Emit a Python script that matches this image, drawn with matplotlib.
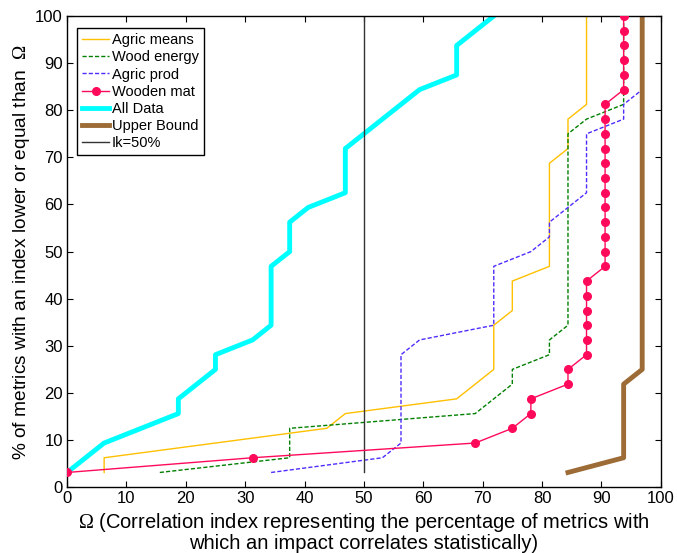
import matplotlib.pyplot as plt

plt.rcParams['font.family'] = ['Liberation Sans', 'DejaVu Sans']
plt.rcParams['mathtext.fontset'] = 'custom'
plt.rcParams['mathtext.rm'] = 'Liberation Serif'

# cumulative distributions of the correlation index (Omega, %)
agric_means_x = [6.25, 6.25, 43.75, 46.875, 65.625, 71.875, 71.875, 75, 75,
                 81.25, 81.25, 84.375, 84.375, 87.5, 87.5]
agric_means_y = [3.125, 6.25, 12.5, 15.625, 18.75, 25, 34.375, 37.5, 43.75,
                 46.875, 68.75, 71.875, 78.125, 81.25, 100]

wood_energy_x = [15.625, 37.5, 37.5, 68.75, 75, 75, 81.25, 81.25, 84.375,
                 84.375, 87.5, 93.75, 93.75, 93.75]
wood_energy_y = [3.125, 6.25, 12.5, 15.625, 21.875, 25, 28.125, 31.25, 34.375,
                 75, 78.125, 81.25, 84.375, 100]

agric_prod_x = [34.375, 53.125, 56.25, 56.25, 59.375, 71.875, 71.875, 78.125,
                81.25, 81.25, 87.5, 87.5, 93.75, 93.75, 96.875, 96.875]
agric_prod_y = [3.125, 6.25, 9.375, 28.125, 31.25, 34.375, 46.875, 50,
                53.125, 56.25, 62.5, 75, 78.125, 81.25, 84.375, 100]

wooden_mat_x = [0, 31.25, 68.75, 75, 78.125, 78.125, 84.375, 84.375] \
    + [87.5] * 6 + [90.625] * 12 + [93.75] * 6
wooden_mat_y = [3.125, 6.25, 9.375, 12.5, 15.625, 18.75, 21.875, 25] \
    + [28.125 + 3.125 * i for i in range(6)] \
    + [46.875 + 3.125 * i for i in range(12)] \
    + [84.375 + 3.125 * i for i in range(6)]

all_data_x = [0, 6.25, 18.75, 18.75, 25, 25, 31.25, 34.375, 34.375, 37.5,
              37.5, 40.625, 46.875, 46.875, 59.375, 65.625, 65.625, 71.875]
all_data_y = [3.125, 9.375, 15.625, 18.75, 25, 28.125, 31.25, 34.375, 46.875,
              50, 56.25, 59.375, 62.5, 71.875, 84.375, 87.5, 93.75, 100]

upper_x = [84.375, 93.75, 93.75, 96.875, 96.875]
upper_y = [3.125, 6.25, 21.875, 25, 100]

ik_x = [50, 50]
ik_y = [3.125, 100]

fig = plt.figure(figsize=(6.77, 5.53), dpi=100)
ax = fig.add_axes([0.099, 0.119, 0.877, 0.852])

ax.plot(agric_means_x, agric_means_y, color='#FFC000', lw=1.0, label='Agric means')
ax.plot(wood_energy_x, wood_energy_y, '--', color='#008000', lw=1.0,
        dashes=(3, 1.5), label='Wood energy')
ax.plot(agric_prod_x, agric_prod_y, '--', color='#4F2CFF', lw=1.0,
        dashes=(3, 1.5), label='Agric prod')
ax.plot(wooden_mat_x, wooden_mat_y, '-o', color='#FF0A5A', lw=1.0, ms=5.5,
        label='Wooden mat', zorder=4)
ax.plot(all_data_x, all_data_y, color='#00FFFF', lw=3.5, label='All Data')
ax.plot(upper_x, upper_y, color='#9C6B36', lw=3.5, label='Upper Bound')
ax.plot(ik_x, ik_y, color='#333333', lw=1.0, label='Ik=50%')

ax.set_xlim(0, 100)
ax.set_ylim(0, 100)
ax.set_xticks(range(0, 101, 10))
ax.set_yticks(range(0, 101, 10))
ax.tick_params(direction='in', top=True, right=True, labelsize=12, length=4,
               pad=3)
for s in ax.spines.values():
    s.set_linewidth(1.0)

ax.set_xlabel('$\\mathrm{\\Omega}$ (Correlation index representing the percentage of metrics with\n'
              'which an impact correlates statistically)', fontsize=14.5,
              linespacing=1.0, labelpad=3)
ax.set_ylabel('% of metrics with an index lower or equal than  $\\mathrm{\\Omega}$',
              fontsize=13.8, labelpad=2)

leg = ax.legend(loc='upper left', fontsize=10.5, fancybox=False, framealpha=1,
                edgecolor='black', handlelength=1.8, handletextpad=0.2,
                labelspacing=0.22, borderpad=0.35, bbox_to_anchor=(0.005, 0.99))
leg.get_frame().set_linewidth(1.0)

fig.savefig('out.png', dpi=100)
